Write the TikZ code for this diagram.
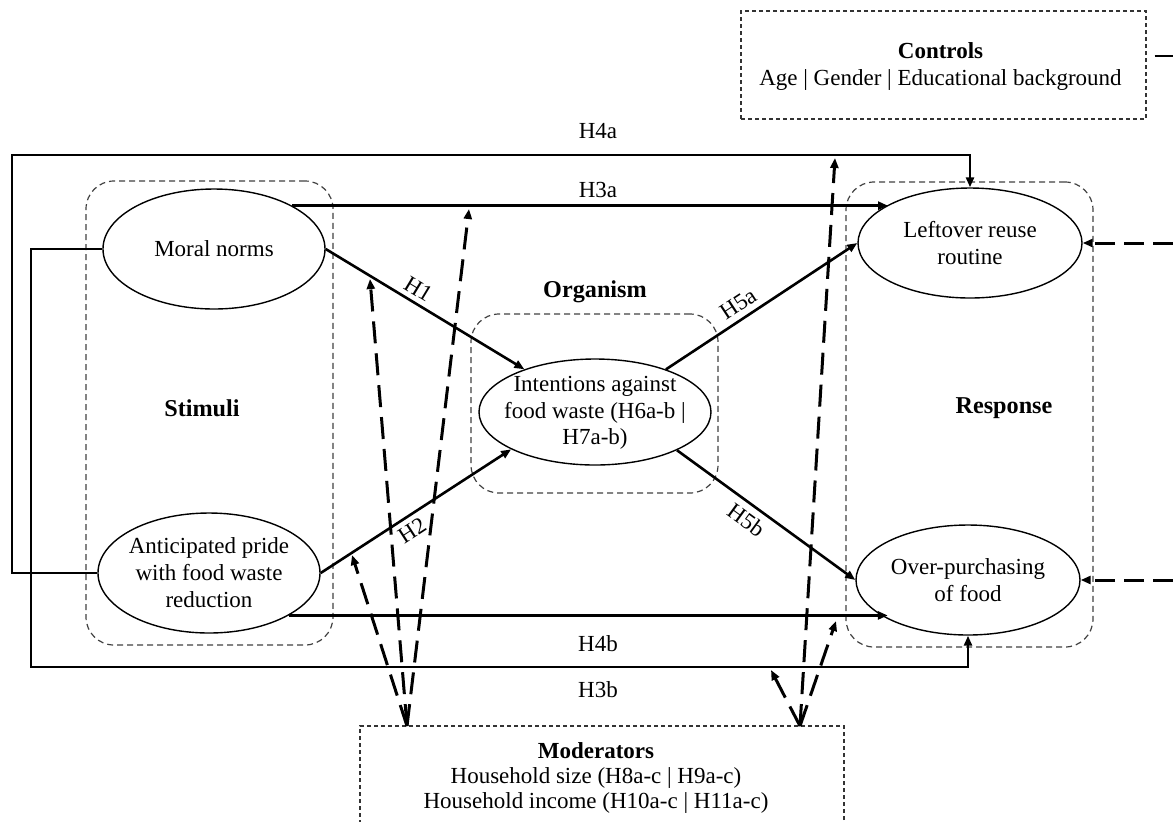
\documentclass[tikz,border=0pt]{standalone}
\usepackage{fontspec}
\setmainfont{Liberation Serif}
\usetikzlibrary{arrows.meta,shapes.geometric}
\begin{document}
\begin{tikzpicture}[x=0.5pt,y=-0.5pt,
  ell/.style={draw, ellipse, line width=0.7pt, inner sep=0pt, fill=white},
  txt/.style={font=\fontsize{11.5}{13.5}\selectfont, align=center, inner sep=0pt},
  ttl/.style={font=\fontsize{12.1}{13.5}\selectfont\bfseries, align=center, inner sep=0pt},
  lbl/.style={font=\fontsize{11.5}{13.5}\selectfont, inner sep=2.5pt},
  grp/.style={draw=black!75, rounded corners=14pt, dash pattern=on 3pt off 2pt, line width=0.6pt, inner sep=0pt},
  fbox/.style={draw=black!80, dash pattern=on 2pt off 1.5pt, line width=0.6pt, inner sep=0pt},
  conn/.style={line width=1.3pt, -{Triangle[length=5pt,width=4pt]}},
  mline/.style={line width=1.5pt, dash pattern=on 11pt off 5pt, -{Triangle[length=5pt,width=4pt]}},
  cline/.style={line width=1.5pt, dash pattern=on 10pt off 4.5pt, -{Triangle[length=5pt,width=4pt]}}
]
\useasboundingbox (0,0) rectangle (1173,821);
\clip (0,0) rectangle (1173,821);

% group boxes
\node[grp, minimum width=123.5pt, minimum height=232pt] (stim) at (209.5,413) {};
\node[grp, minimum width=123.5pt, minimum height=89.5pt] (org) at (594.5,403.5) {};
\node[grp, minimum width=123.5pt, minimum height=232.5pt] (resp) at (969.5,414.5) {};
\node[ttl] (stimt) at (202,408) {Stimuli};
\node[ttl] (orgt) at (595,292) {Organism};
\node[ttl] (respt) at (1004,408) {Response};

% controls & moderators
\node[fbox, minimum width=202.5pt, minimum height=54pt] (ctrl) at (943.5,65) {};
\node[txt] (ctrlt) at (940.5,66) {\textbf{Controls}\\Age | Gender | Educational background};
\node[fbox, minimum width=242pt, minimum height=64pt] (mod) at (602,790) {};
\node[txt, font=\fontsize{11.5}{12.5}\selectfont] (modt) at (596,778) {\textbf{Moderators}\\Household size (H8a-c | H9a-c)\\Household income (H10a-c | H11a-c)};

% constructs
\node[ell, minimum width=111pt, minimum height=60pt] (mn) at (214,249) {};
\node[txt] (mnt) at (mn) {Moral norms};
\node[ell, minimum width=111pt, minimum height=60pt] (ap) at (209,573) {};
\node[txt] (apt) at (ap) {Anticipated pride\\with food waste\\reduction};
\node[ell, minimum width=112pt, minimum height=55pt] (lr) at (970,243) {};
\node[txt] (lrt) at (lr) {Leftover reuse\\routine};
\node[ell, minimum width=112pt, minimum height=55pt] (op) at (968,580) {};
\node[txt] (opt) at (op) {Over-purchasing\\of food};
\node[ell, minimum width=116pt, minimum height=53pt] (int) at (595,412) {};
\node[txt, font=\fontsize{11.5}{13.2}\selectfont] (intt) at (595,413) {Intentions against\\food waste (H6a-b |\\H7a-b)};

% corner coordinates
\coordinate (h4aL) at (12,155);
\coordinate (h3bL) at (31,667);

% paths
\draw[conn] (mn.29) -- (mn.29 -| lr.155);
\draw[conn] (ap.-28) -- (ap.-28 -| op.206);
\draw[conn] (ap.west) -| (h4aL) -| (lr.north);
\draw[conn] (mn.west) -| (h3bL) -| (op.south);
\draw[conn] (mn.east) -- node[lbl, sloped, above, pos=0.43] (lH1) {H1} (int);
\draw[conn] (ap.east) -- node[lbl, sloped, below, pos=0.44] (lH2) {H2} (int.204);
\draw[conn] (int.31) -- node[lbl, sloped, above, pos=0.42, inner sep=3pt] (lH5a) {H5a} (lr.west);
\draw[conn] (int.-25) -- node[lbl, sloped, below, pos=0.44, inner sep=3pt] (lH5b) {H5b} (op.west);

\node[txt] (lH4a) at (598,131) {H4a};
\node[txt] (lH3a) at (598,190) {H3a};
\node[txt] (lH4b) at (598,644) {H4b};
\node[txt] (lH3b) at (598,690) {H3b};

% moderator arrows
\coordinate (mL) at (407,726);
\coordinate (mR) at (800,726);
\coordinate (tH1) at (370,279);
\coordinate (tH3a) at (469,209);
\coordinate (tH2) at (352,555);
\coordinate (tH4a) at (835,158);
\coordinate (tH4b) at (836,621);
\coordinate (tH3b) at (771,670);
\draw[mline] (mL) -- (tH1);
\draw[mline] (mL) -- (tH3a);
\draw[mline] (mL) -- (tH2);
\draw[mline] (mR) -- (tH4a);
\draw[mline] (mR) -- (tH4b);
\draw[mline] (mR) -- (tH3b);

% control arrows
\coordinate (cA) at (1173,243);
\coordinate (cB) at (1173,580);
\coordinate (cC) at (1173,56);
\draw[cline] (cA) -- (lr.east);
\draw[cline] (cB) -- (op.east);
\draw[line width=1.3pt] ([xshift=4pt]ctrl.east |- cC) -- (cC);
\end{tikzpicture}
\end{document}
